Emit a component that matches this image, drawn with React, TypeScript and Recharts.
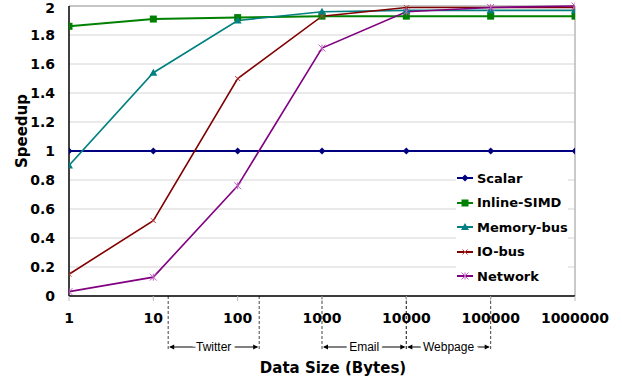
import { LineChart, Line, XAxis, YAxis, CartesianGrid, ReferenceLine, ReferenceArea, Legend } from 'recharts';

// bytes on a log axis
const sizes = [1, 10, 100, 1000, 10000, 100000, 1000000];
const scalar = [1, 1, 1, 1, 1, 1, 1];
const inlineSimd = [1.86, 1.91, 1.92, 1.93, 1.93, 1.93, 1.93];
const memoryBus = [0.9, 1.54, 1.9, 1.96, 1.97, 1.97, 1.97];
const ioBus = [0.15, 0.52, 1.5, 1.93, 1.99, 1.99, 1.99];
const network = [0.03, 0.13, 0.76, 1.71, 1.96, 1.99, 2.0];
const yTicks = [0, 0.2, 0.4, 0.6, 0.8, 1, 1.2, 1.4, 1.6, 1.8, 2];

// message size ranges marked below the axis
const ranges = [
  { name: 'Twitter', from: 15, to: 180 },
  { name: 'Email', from: 1000, to: 10000 },
  { name: 'Webpage', from: 10000, to: 100000 },
];

const series = [
  { key: 'scalar', name: 'Scalar', color: '#000080', marker: 'diamond', width: 2 },
  { key: 'inlineSimd', name: 'Inline-SIMD', color: '#008000', marker: 'square', width: 2 },
  { key: 'memoryBus', name: 'Memory-bus', color: '#008080', marker: 'triangle', width: 1.6 },
  { key: 'ioBus', name: 'IO-bus', color: '#800000', marker: 'cross', width: 1.6 },
  { key: 'network', name: 'Network', color: '#800080', marker: 'star', width: 1.6 },
];

const data = sizes.map((size, i) => ({
  size,
  scalar: scalar[i],
  inlineSimd: inlineSimd[i],
  memoryBus: memoryBus[i],
  ioBus: ioBus[i],
  network: network[i],
}));

const FONT = '"DejaVu Sans", Verdana, sans-serif';

function Marker({ type, cx, cy, color }: { type: string; cx: number; cy: number; color: string }) {
  switch (type) {
    case 'diamond':
      return <polygon points={`${cx},${cy - 3.5} ${cx + 3.5},${cy} ${cx},${cy + 3.5} ${cx - 3.5},${cy}`} fill={color} />;
    case 'square':
      return <rect x={cx - 3.5} y={cy - 3.5} width={7} height={7} fill={color} />;
    case 'triangle':
      return <polygon points={`${cx},${cy - 4} ${cx + 4},${cy + 3} ${cx - 4},${cy + 3}`} fill={color} />;
    case 'cross':
      return (
        <g stroke="#c04040" strokeWidth={1}>
          <line x1={cx - 2.5} y1={cy - 2.5} x2={cx + 2.5} y2={cy + 2.5} />
          <line x1={cx - 2.5} y1={cy + 2.5} x2={cx + 2.5} y2={cy - 2.5} />
        </g>
      );
    default:
      return (
        <g stroke="#c060c0" strokeWidth={1}>
          <line x1={cx - 3.5} y1={cy - 3.5} x2={cx + 3.5} y2={cy + 3.5} />
          <line x1={cx - 3.5} y1={cy + 3.5} x2={cx + 3.5} y2={cy - 3.5} />
          <line x1={cx} y1={cy - 3.5} x2={cx} y2={cy + 3.5} />
        </g>
      );
  }
}

function Bracket({ viewBox, name }: any) {
  if (!viewBox) return null;
  const { x, y, width, height } = viewBox;
  const base = y + height;
  const ay = base + 51;
  const x2 = x + width;
  return (
    <g>
      <line x1={x} y1={base} x2={x} y2={base + 55} stroke="#444" strokeDasharray="3 2" />
      <line x1={x2} y1={base} x2={x2} y2={base + 55} stroke="#444" strokeDasharray="3 2" />
      <line x1={x + 2} y1={ay} x2={x2 - 2} y2={ay} stroke="#000" strokeWidth={1} />
      <polygon points={`${x + 1},${ay} ${x + 6},${ay - 2.5} ${x + 6},${ay + 2.5}`} fill="#000" />
      <polygon points={`${x2 - 1},${ay} ${x2 - 6},${ay - 2.5} ${x2 - 6},${ay + 2.5}`} fill="#000" />
      <text
        x={x + width / 2}
        y={ay}
        textAnchor="middle"
        dominantBaseline="central"
        fontFamily='"Liberation Sans", Arial, sans-serif'
        fontSize={12}
        fill="#000"
        stroke="#fff"
        strokeWidth={7}
        paintOrder="stroke"
      >
        {name}
      </text>
    </g>
  );
}

function LegendBox() {
  return (
    <div style={{ background: '#fff', fontFamily: FONT, fontWeight: 'bold', fontSize: 13, color: '#000' }}>
      {series.map((s) => (
        <div key={s.key} style={{ display: 'flex', alignItems: 'center', height: 24.5 }}>
          <svg width={18} height={10} style={{ marginLeft: 1 }}>
            <line x1={0} y1={5} x2={16} y2={5} stroke={s.color} strokeWidth={2} />
            <Marker type={s.marker} cx={8} cy={5} color={s.color} />
          </svg>
          <span style={{ marginLeft: 2 }}>{s.name}</span>
        </div>
      ))}
    </div>
  );
}

export default function App() {
  return (
    <div style={{ position: 'absolute', left: 0, top: 0, background: '#fff' }}>
      <LineChart width={622} height={383} data={data} margin={{ top: 6, right: 47, left: 0, bottom: 57 }}>
        <CartesianGrid vertical={false} stroke="#d4d4d4" />
        <XAxis
          dataKey="size"
          type="number"
          scale="log"
          domain={[1, 1000000]}
          ticks={sizes}
          tickFormatter={(v) => String(v)}
          height={30}
          axisLine={{ stroke: '#000', strokeWidth: 1.5 }}
          tickLine={{ stroke: '#bbb' }}
          tickSize={5}
          tickMargin={12}
          tick={{ fill: '#000', fontSize: 14, fontWeight: 'bold', fontFamily: FONT }}
          allowDataOverflow
        />
        <YAxis
          domain={[0, 2]}
          ticks={yTicks}
          width={69}
          axisLine={{ stroke: '#000', strokeWidth: 1.5 }}
          tickLine={false}
          tickSize={0}
          tickMargin={14}
          tick={{ fill: '#000', fontSize: 14, fontWeight: 'bold', fontFamily: FONT }}
        />
        <ReferenceLine y={2} stroke="#b8b8b8" strokeWidth={1.5} />
        <ReferenceLine x={1000000} stroke="#b8b8b8" strokeWidth={1.5} />
        {ranges.map((r) => (
          <ReferenceArea
            key={r.name}
            x1={r.from}
            x2={r.to}
            fill="none"
            fillOpacity={0}
            stroke="none"
            ifOverflow="visible"
            label={{ content: (p: any) => <Bracket viewBox={p.viewBox} name={r.name} /> }}
          />
        ))}
        {series.map((s) => (
          <Line
            key={s.key}
            dataKey={s.key}
            name={s.name}
            stroke={s.color}
            strokeWidth={s.width}
            isAnimationActive={false}
            dot={(p: any) => <Marker key={`${s.key}-${p.index}`} type={s.marker} cx={p.cx} cy={p.cy} color={s.color} />}
            activeDot={false}
          />
        ))}
        <Legend
          layout="vertical"
          align="center"
          verticalAlign="middle"
          content={() => <LegendBox />}
          wrapperStyle={{ left: 456, top: 166, width: 112, height: 'auto' }}
        />
        <text x={22} y={131} transform="rotate(-90 22 131)" textAnchor="middle" dominantBaseline="central" fontFamily={FONT} fontWeight="bold" fontSize={15} fill="#000">
          Speedup
        </text>
        <text x={333} y={368} textAnchor="middle" dominantBaseline="central" fontFamily={FONT} fontWeight="bold" fontSize={15} fill="#000">
          Data Size (Bytes)
        </text>
      </LineChart>
    </div>
  );
}
